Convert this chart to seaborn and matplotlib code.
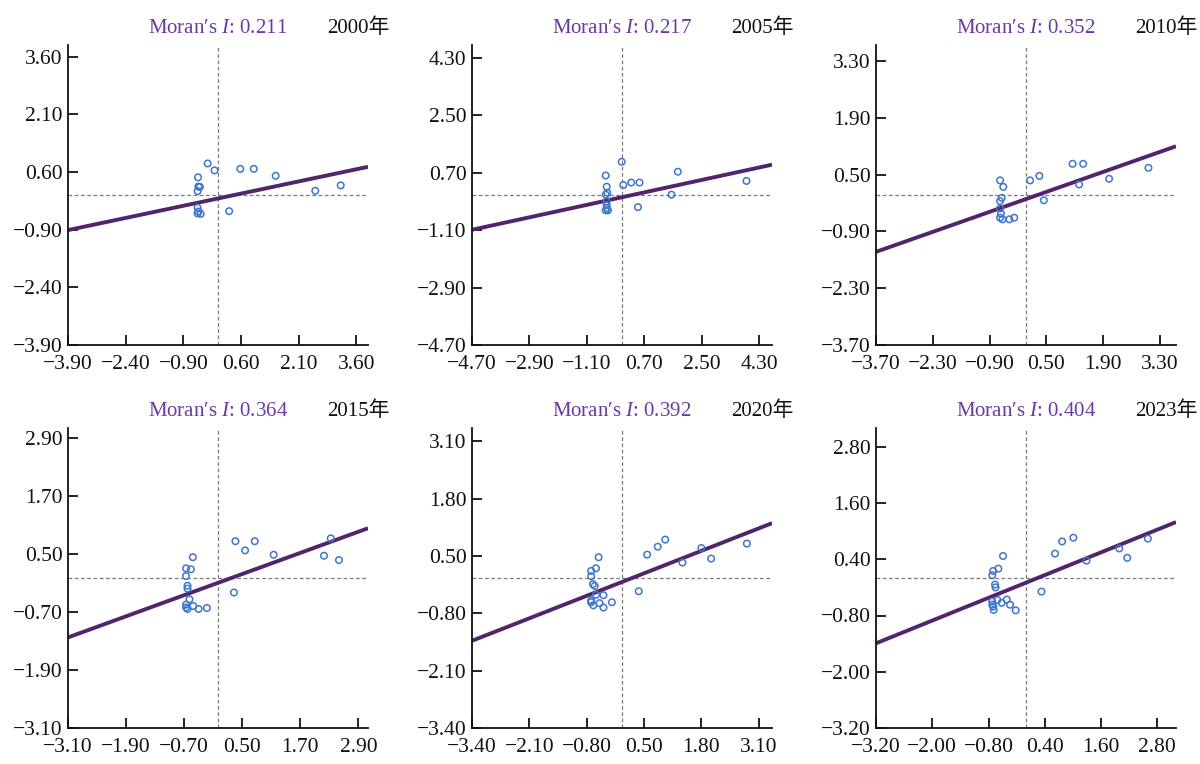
import numpy as np
import pandas as pd
import matplotlib
matplotlib.use("Agg")
import matplotlib.pyplot as plt
from matplotlib.ticker import FixedLocator, FuncFormatter
import seaborn as sns

# ---------------- data ----------------
years = ["2000年", "2005年", "2010年", "2015年", "2020年", "2023年"]
morans_i = [0.211, 0.217, 0.352, 0.364, 0.392, 0.404]
intercepts = [-0.09, -0.07, -0.10, -0.10, -0.09, -0.10]
axis_limits = [3.9, 4.7, 3.7, 3.1, 3.4, 3.2]
tick_steps = [1.5, 1.8, 1.4, 1.2, 1.3, 1.2]

z_2000 = [-0.52, -0.51, -0.47, -0.53, -0.27, -0.09, 0.58, 0.93, 1.50, 2.53, 3.19, 0.29,
          -0.53, -0.51, -0.45, -0.53]
wz_2000 = [0.46, 0.22, 0.21, 0.10, 0.82, 0.64, 0.68, 0.68, 0.50, 0.11, 0.25, -0.42,
           -0.33, -0.43, -0.49, -0.48]

z_2005 = [-0.01, -0.51, -0.48, -0.46, -0.51, 0.04, 0.29, 0.55, 1.75, 3.90, 1.55, 0.50,
          -0.48, -0.48, -0.51, -0.44, -0.48]
wz_2005 = [1.04, 0.61, 0.26, 0.07, 0.01, 0.31, 0.39, 0.39, 0.73, 0.44, 0.01, -0.38,
           -0.20, -0.32, -0.48, -0.48, -0.41]

z_2010 = [-0.64, -0.56, -0.60, -0.64, -0.64, -0.62, -0.64, -0.58, -0.41, -0.29, 0.10,
          0.33, 0.44, 1.15, 1.41, 1.31, 2.05, 3.02]
wz_2010 = [0.36, 0.20, -0.07, -0.15, -0.33, -0.46, -0.56, -0.60, -0.60, -0.56, 0.36,
           0.47, -0.13, 0.77, 0.77, 0.26, 0.40, 0.67]

z_2015 = [-0.52, -0.66, -0.56, -0.66, -0.63, -0.63, -0.59, -0.66, -0.66, -0.63, -0.51,
          -0.40, -0.23, 0.33, 0.36, 0.56, 0.76, 1.15, 2.19, 2.33, 2.50]
wz_2015 = [0.43, 0.20, 0.18, 0.04, -0.16, -0.22, -0.44, -0.55, -0.61, -0.64, -0.58,
           -0.64, -0.62, -0.30, 0.76, 0.57, 0.76, 0.48, 0.46, 0.82, 0.37]

z_2020 = [-0.53, -0.70, -0.59, -0.70, -0.66, -0.62, -0.59, -0.42, -0.70, -0.70, -0.65,
          -0.51, -0.42, -0.23, 0.38, 0.57, 0.81, 0.98, 1.37, 1.80, 2.02, 2.83]
wz_2020 = [0.47, 0.16, 0.22, 0.04, -0.14, -0.18, -0.38, -0.39, -0.51, -0.55, -0.62,
           -0.57, -0.67, -0.55, -0.30, 0.53, 0.71, 0.87, 0.35, 0.68, 0.44, 0.78]

z_2023 = [-0.49, -0.70, -0.59, -0.72, -0.66, -0.65, -0.72, -0.61, -0.52, -0.41, -0.34,
          -0.22, -0.70, -0.69, -0.72, 0.33, 0.62, 0.77, 1.01, 1.29, 1.99, 2.16, 2.60]
wz_2023 = [0.47, 0.15, 0.20, 0.06, -0.14, -0.20, -0.50, -0.47, -0.53, -0.46, -0.57,
           -0.69, -0.61, -0.68, -0.57, -0.29, 0.52, 0.78, 0.86, 0.37, 0.63, 0.43, 0.84]

z_all = [z_2000, z_2005, z_2010, z_2015, z_2020, z_2023]
wz_all = [wz_2000, wz_2005, wz_2010, wz_2015, wz_2020, wz_2023]

# ---------------- style ----------------
sns.set_style("ticks")
plt.rcParams["font.family"] = ["Liberation Serif", "Noto Sans CJK SC", "DejaVu Sans"]
plt.rcParams["mathtext.fontset"] = "custom"
plt.rcParams["mathtext.rm"] = "Liberation Serif"
plt.rcParams["mathtext.it"] = "Liberation Serif:italic"
plt.rcParams["axes.unicode_minus"] = True

POINT_COLOR = "#3f76c9"
LINE_COLOR = "#52246b"
TITLE_COLOR = "#6a3a9e"
FS_TICK = 15.5
FS = 15

fig = plt.figure(figsize=(12, 7.64), dpi=100)
W, H = 1200, 764
lefts = [68, 472, 876]
tops = [45, 428]
size = 300

fmt = FuncFormatter(lambda v, p: f"{v:.2f}".replace("-", "\u2212"))

for i in range(6):
    r, c = divmod(i, 3)
    ax = fig.add_axes([lefts[c] / W, 1 - (tops[r] + size) / H, size / W, size / H])
    lim = axis_limits[i]
    step = tick_steps[i]
    ticks = [round(-lim + step * k, 2) for k in range(6)]

    ax.axvline(0, color="#7a7a7a", lw=0.9, ls=(0, (3, 2)), zorder=1)
    ax.axhline(0, color="#7a7a7a", lw=0.9, ls=(0, (3, 2)), zorder=1)

    xs = np.array([-lim, lim])
    ax.plot(xs, morans_i[i] * xs + intercepts[i], color=LINE_COLOR, lw=2.8, zorder=2,
            solid_capstyle="butt")

    df = pd.DataFrame({"z": z_all[i], "wz": wz_all[i]})
    sns.scatterplot(data=df, x="z", y="wz", ax=ax, s=22, marker="o",
                    facecolor="none", edgecolor=POINT_COLOR, linewidth=1.1, zorder=3)

    ax.set_xlim(-lim, lim)
    ax.set_ylim(-lim, lim)
    ax.xaxis.set_major_locator(FixedLocator(ticks))
    ax.yaxis.set_major_locator(FixedLocator(ticks))
    ax.xaxis.set_major_formatter(fmt)
    ax.yaxis.set_major_formatter(fmt)
    ax.tick_params(direction="in", length=7, width=1.3, labelsize=FS_TICK,
                   colors="#111111")
    ax.tick_params(axis="x", pad=7)
    ax.tick_params(axis="y", pad=4)
    ax.set_xlabel("")
    ax.set_ylabel("")
    sns.despine(ax=ax)
    for s in ["left", "bottom"]:
        ax.spines[s].set_linewidth(1.3)
        ax.spines[s].set_color("#111111")

    ax.text(0.5, 1.04, f"Moran\u2032s $\\mathit{{I}}$: {morans_i[i]:.3f}", transform=ax.transAxes,
            ha="center", va="baseline", color=TITLE_COLOR, fontsize=FS,
            family="Liberation Serif")
    ax.text(1.073, 1.04, years[i], transform=ax.transAxes, ha="right", va="baseline",
            color="#111111", fontsize=FS)

fig.savefig("out.png", dpi=100, facecolor="white")
